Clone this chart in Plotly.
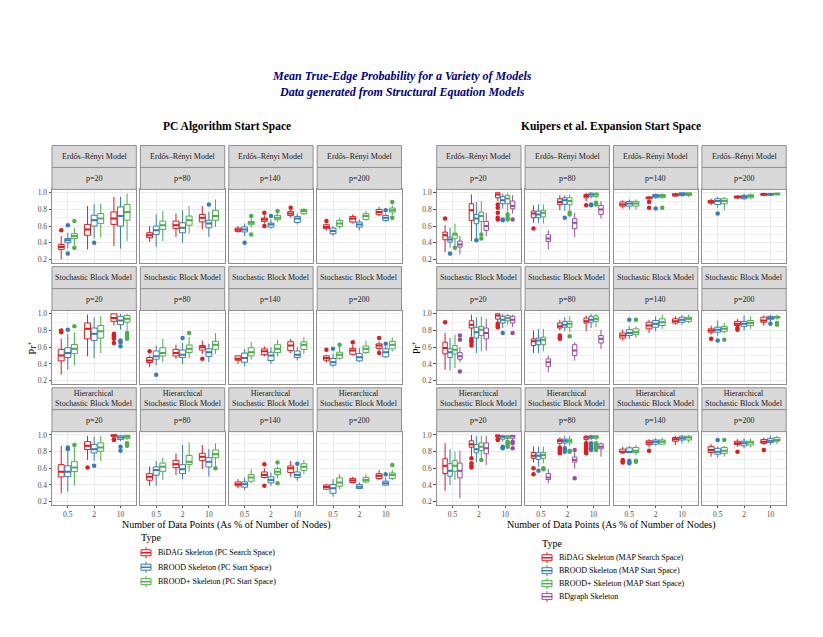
import plotly.graph_objects as go

W, H = 823, 637

# ---------------- categories / labels ----------------
MODELS = ["Erdős–Rényi Model", "Stochastic Block Model", "Hierarchical<br>Stochastic Block Model"]
P_LABELS = ["p=20", "p=80", "p=140", "p=200"]
N_LABELS = ["0.5", "2", "10"]

PC_TYPES = ["BiDAG Skeleton (PC Search Space)", "BROOD Skeleton (PC Start Space)",
            "BROOD+ Skeleton (PC Start Space)"]
MAP_TYPES = ["BiDAG Skeleton (MAP Search Space)", "BROOD Skeleton (MAP Start Space)",
             "BROOD+ Skeleton (MAP Start Space)", "BDgraph Skeleton"]
TYPE_COLORS = ["#E41A1C", "#377EB8", "#4DAF4A", "#984EA3"]

# ---------------- data ----------------
# Each facet (model x p, row-major: ER p20..p200, SBM p20..p200, HSBM p20..p200)
# holds 3 boxes (n = 0.5, 2, 10): [lower whisker, q1, median, q3, upper whisker]
PC_BIDAG = [
    [[0.20, 0.32, 0.35, 0.38, 0.48], [0.32, 0.49, 0.56, 0.62, 0.84], [0.36, 0.62, 0.69, 0.77, 0.95]],
    [[0.41, 0.46, 0.49, 0.52, 0.60], [0.47, 0.57, 0.61, 0.66, 0.75], [0.56, 0.65, 0.70, 0.74, 0.84]],
    [[0.52, 0.536, 0.556, 0.576, 0.60], [0.63, 0.656, 0.68, 0.696, 0.73], [0.70, 0.728, 0.75, 0.776, 0.80]],
    [[0.55, 0.568, 0.59, 0.616, 0.63], [0.63, 0.648, 0.69, 0.716, 0.74], [0.72, 0.736, 0.77, 0.80, 0.83]],
    [[0.27, 0.436, 0.50, 0.574, 0.70], [0.49, 0.70, 0.82, 0.89, 0.99], [0.86, 0.91, 0.95, 1.0, 1.0]],
    [[0.36, 0.416, 0.44, 0.476, 0.50], [0.46, 0.495, 0.53, 0.574, 0.63], [0.52, 0.566, 0.60, 0.62, 0.68]],
    [[0.40, 0.444, 0.46, 0.496, 0.50], [0.49, 0.51, 0.55, 0.58, 0.61], [0.53, 0.56, 0.62, 0.665, 0.70]],
    [[0.42, 0.444, 0.47, 0.496, 0.51], [0.50, 0.515, 0.56, 0.586, 0.63], [0.55, 0.586, 0.62, 0.64, 0.67]],
    [[0.30, 0.497, 0.56, 0.644, 0.87], [0.70, 0.825, 0.87, 0.92, 0.99], [0.96, 0.985, 0.995, 1.0, 1.0]],
    [[0.39, 0.457, 0.50, 0.536, 0.62], [0.52, 0.608, 0.65, 0.695, 0.78], [0.59, 0.695, 0.74, 0.78, 0.88]],
    [[0.36, 0.39, 0.41, 0.437, 0.47], [0.48, 0.49, 0.52, 0.556, 0.60], [0.50, 0.55, 0.60, 0.628, 0.69]],
    [[0.34, 0.35, 0.375, 0.40, 0.41], [0.42, 0.43, 0.455, 0.477, 0.50], [0.46, 0.477, 0.51, 0.536, 0.58]],
]
PC_BIDAG_OUT = [
    [[0.55], [], []], [[], [], []], [[], [0.76, 0.60], [0.82]], [[0.66], [], []],
    [[0.78, 0.80], [], [0.76, 0.74, 0.72, 0.70, 0.65]], [[0.55], [], [0.46]], [[], [], []], [[0.57], [0.66], [0.71, 0.53]],
    [[], [0.61], [0.95, 0.94]], [[], [], []], [[], [0.65, 0.39], []], [[], [], []],
]
PC_BROOD = [
    [[0.33, 0.40, 0.43, 0.45, 0.52], [0.45, 0.60, 0.67, 0.73, 0.86], [0.33, 0.60, 0.72, 0.83, 0.95]],
    [[0.35, 0.50, 0.55, 0.60, 0.74], [0.40, 0.52, 0.58, 0.64, 0.79], [0.47, 0.58, 0.63, 0.67, 0.77]],
    [[0.48, 0.53, 0.56, 0.59, 0.63], [0.57, 0.588, 0.62, 0.636, 0.68], [0.62, 0.644, 0.69, 0.716, 0.75]],
    [[0.48, 0.508, 0.54, 0.576, 0.60], [0.55, 0.588, 0.62, 0.648, 0.68], [0.65, 0.668, 0.70, 0.728, 0.75]],
    [[0.33, 0.476, 0.53, 0.594, 0.76], [0.47, 0.68, 0.76, 0.83, 0.96], [0.81, 0.87, 0.92, 0.97, 1.0]],
    [[0.38, 0.456, 0.49, 0.555, 0.62], [0.40, 0.476, 0.51, 0.566, 0.65], [0.42, 0.49, 0.54, 0.58, 0.64]],
    [[0.37, 0.42, 0.47, 0.53, 0.58], [0.40, 0.44, 0.50, 0.54, 0.60], [0.44, 0.476, 0.51, 0.555, 0.60]],
    [[0.36, 0.385, 0.42, 0.464, 0.52], [0.42, 0.436, 0.48, 0.523, 0.59], [0.47, 0.484, 0.54, 0.58, 0.61]],
    [[0.32, 0.50, 0.56, 0.63, 0.80], [0.69, 0.785, 0.83, 0.885, 0.98], [0.93, 0.945, 0.97, 0.99, 1.0]],
    [[0.39, 0.517, 0.58, 0.616, 0.69], [0.47, 0.537, 0.59, 0.644, 0.88], [0.50, 0.616, 0.68, 0.727, 0.83]],
    [[0.34, 0.374, 0.41, 0.437, 0.49], [0.39, 0.426, 0.46, 0.497, 0.55], [0.45, 0.49, 0.52, 0.556, 0.62]],
    [[0.26, 0.30, 0.36, 0.406, 0.47], [0.35, 0.358, 0.38, 0.406, 0.43], [0.39, 0.398, 0.42, 0.446, 0.49]],
]
PC_BROOD_OUT = [
    [[0.61, 0.27], [0.40], []], [[], [], [0.86]], [[0.40], [0.72], []], [[], [], [0.79]],
    [[0.81], [], [0.68, 0.66, 0.61]], [[0.27], [0.71], []], [[], [], []], [[0.58], [], [0.64]],
    [[0.85, 0.83], [0.63], [0.86, 0.81]], [[], [], []], [[], [], [0.655]], [[], [], [0.53]],
]
PC_BROODP = [
    [[0.37, 0.45, 0.48, 0.51, 0.58], [0.46, 0.63, 0.69, 0.75, 0.87], [0.42, 0.67, 0.77, 0.86, 0.99]],
    [[0.42, 0.56, 0.61, 0.66, 0.78], [0.51, 0.61, 0.67, 0.72, 0.84], [0.59, 0.67, 0.72, 0.79, 0.92]],
    [[0.58, 0.616, 0.64, 0.656, 0.70], [0.65, 0.676, 0.70, 0.728, 0.76], [0.73, 0.748, 0.78, 0.80, 0.82]],
    [[0.57, 0.596, 0.63, 0.668, 0.70], [0.66, 0.68, 0.72, 0.748, 0.78], [0.73, 0.768, 0.79, 0.816, 0.85]],
    [[0.38, 0.523, 0.58, 0.633, 0.78], [0.53, 0.71, 0.79, 0.86, 0.97], [0.80, 0.90, 0.94, 0.98, 1.0]],
    [[0.42, 0.495, 0.53, 0.594, 0.70], [0.47, 0.535, 0.58, 0.626, 0.72], [0.52, 0.575, 0.63, 0.67, 0.77]],
    [[0.45, 0.496, 0.54, 0.594, 0.66], [0.49, 0.535, 0.58, 0.63, 0.69], [0.52, 0.574, 0.63, 0.665, 0.72]],
    [[0.45, 0.468, 0.51, 0.54, 0.60], [0.52, 0.535, 0.58, 0.614, 0.68], [0.55, 0.58, 0.63, 0.67, 0.72]],
    [[0.39, 0.56, 0.61, 0.68, 0.85], [0.69, 0.805, 0.85, 0.905, 0.99], [0.94, 0.96, 0.98, 0.995, 1.0]],
    [[0.46, 0.564, 0.62, 0.663, 0.73], [0.56, 0.644, 0.68, 0.754, 0.91], [0.63, 0.727, 0.77, 0.82, 0.90]],
    [[0.42, 0.445, 0.49, 0.525, 0.59], [0.48, 0.525, 0.56, 0.596, 0.62], [0.53, 0.576, 0.62, 0.655, 0.70]],
    [[0.35, 0.386, 0.43, 0.485, 0.53], [0.42, 0.437, 0.46, 0.49, 0.53], [0.46, 0.477, 0.52, 0.544, 0.58]],
]
PC_BROODP_OUT = [
    [[0.66, 0.34], [], []], [[], [], []], [[0.72, 0.50], [0.78], []], [[], [], [0.89, 0.70]],
    [[0.85], [], [0.77, 0.75, 0.72, 0.70]], [[], [0.77], []], [[], [], []], [[0.63], [], []],
    [[0.88], [], [0.90, 0.88, 0.87]], [[], [], [0.60]], [[], [0.67, 0.42], []], [[], [], [0.64]],
]

MAP_BIDAG = [
    [[0.29, 0.436, 0.49, 0.528, 0.61], [0.42, 0.668, 0.79, 0.868, 0.98], [0.90, 0.94, 0.98, 1.0, 1.0]],
    [[0.64, 0.70, 0.75, 0.78, 0.85], [0.79, 0.856, 0.89, 0.928, 0.97], [0.90, 0.94, 0.96, 0.98, 1.0]],
    [[0.81, 0.84, 0.86, 0.888, 0.91], [0.90, 0.928, 0.94, 0.948, 0.96], [0.95, 0.96, 0.975, 0.988, 1.0]],
    [[0.85, 0.876, 0.89, 0.908, 0.93], [0.93, 0.936, 0.95, 0.96, 0.97], [0.96, 0.97, 0.98, 0.99, 1.0]],
    [[0.33, 0.52, 0.59, 0.66, 0.77], [0.73, 0.83, 0.87, 0.917, 0.99], [0.90, 0.937, 0.98, 1.0, 1.0]],
    [[0.53, 0.62, 0.67, 0.70, 0.80], [0.80, 0.83, 0.85, 0.89, 0.93], [0.79, 0.89, 0.91, 0.95, 0.98]],
    [[0.68, 0.71, 0.74, 0.77, 0.81], [0.77, 0.82, 0.86, 0.90, 0.93], [0.87, 0.89, 0.91, 0.94, 0.97]],
    [[0.75, 0.78, 0.80, 0.82, 0.86], [0.84, 0.86, 0.88, 0.91, 0.94], [0.86, 0.90, 0.92, 0.96, 0.98]],
    [[0.33, 0.537, 0.63, 0.715, 0.90], [0.75, 0.853, 0.89, 0.93, 1.0], [0.96, 0.975, 0.99, 1.0, 1.0]],
    [[0.67, 0.72, 0.75, 0.79, 0.86], [0.88, 0.90, 0.93, 0.95, 0.97], [0.92, 0.945, 0.97, 0.985, 1.0]],
    [[0.77, 0.786, 0.80, 0.83, 0.86], [0.85, 0.885, 0.91, 0.93, 0.95], [0.88, 0.925, 0.95, 0.97, 0.99]],
    [[0.74, 0.79, 0.82, 0.86, 0.89], [0.86, 0.885, 0.90, 0.925, 0.95], [0.88, 0.90, 0.92, 0.945, 0.97]],
]
MAP_BIDAG_OUT = [
    [[0.69], [], [0.86, 0.82, 0.76, 0.70, 0.68]], [[0.57], [], [0.85]], [[], [0.89, 0.82], []], [[], [], []],
    [[0.90], [0.70, 0.68, 0.66, 0.62], [0.88, 0.86, 0.84]], [[], [0.74, 0.72, 0.70], []], [[], [], []],
    [[0.70], [0.81, 0.83], []],
    [[], [0.72, 0.66, 0.63, 0.61], [0.95, 0.94]],
    [[0.60, 0.53], [0.85, 0.83, 0.81, 0.79, 0.78], [0.90, 0.88, 0.86, 0.84, 0.82, 0.80, 0.78]],
    [[0.70, 0.68, 0.67], [0.81], []], [[], [0.80], [0.82]],
]
MAP_BROOD = [
    [[0.34, 0.408, 0.44, 0.468, 0.58], [0.44, 0.628, 0.69, 0.74, 0.89], [0.81, 0.868, 0.91, 0.956, 0.99]],
    [[0.64, 0.70, 0.74, 0.78, 0.86], [0.78, 0.86, 0.91, 0.94, 0.97], [0.93, 0.956, 0.98, 0.996, 1.0]],
    [[0.80, 0.84, 0.87, 0.896, 0.92], [0.93, 0.94, 0.96, 0.98, 0.99], [0.95, 0.968, 0.985, 1.0, 1.0]],
    [[0.82, 0.86, 0.90, 0.928, 0.95], [0.91, 0.928, 0.95, 0.968, 0.99], [0.96, 0.97, 0.98, 0.99, 1.0]],
    [[0.32, 0.475, 0.54, 0.58, 0.71], [0.53, 0.71, 0.78, 0.84, 0.96], [0.83, 0.89, 0.93, 0.97, 1.0]],
    [[0.53, 0.63, 0.68, 0.71, 0.82], [0.79, 0.84, 0.87, 0.91, 0.96], [0.83, 0.90, 0.93, 0.97, 1.0]],
    [[0.70, 0.74, 0.77, 0.81, 0.85], [0.79, 0.84, 0.88, 0.92, 0.97], [0.87, 0.90, 0.93, 0.96, 0.99]],
    [[0.74, 0.78, 0.81, 0.84, 0.92], [0.80, 0.85, 0.88, 0.91, 0.98], [0.90, 0.93, 0.95, 0.97, 0.99]],
    [[0.40, 0.505, 0.57, 0.655, 0.83], [0.67, 0.786, 0.83, 0.885, 0.99], [0.92, 0.95, 0.98, 0.99, 1.0]],
    [[0.62, 0.707, 0.75, 0.786, 0.86], [0.87, 0.905, 0.93, 0.95, 0.99], [0.94, 0.96, 0.98, 0.99, 1.0]],
    [[0.78, 0.79, 0.80, 0.845, 0.87], [0.87, 0.89, 0.92, 0.94, 0.96], [0.90, 0.94, 0.96, 0.985, 1.0]],
    [[0.73, 0.77, 0.80, 0.84, 0.86], [0.84, 0.87, 0.90, 0.925, 0.96], [0.88, 0.91, 0.93, 0.96, 0.99]],
]
MAP_BROOD_OUT = [
    [[0.27], [0.43], [0.68, 0.67]], [[], [0.70], [0.86, 0.85]], [[], [0.81], []], [[0.75], [], []],
    [[], [], [0.77]], [[], [], []], [[0.93], [], []], [[0.68], [], [0.88]],
    [[], [], [0.86, 0.85, 0.84]], [[0.57], [0.84, 0.82, 0.80], [0.90, 0.88, 0.86, 0.84, 0.82]],
    [[0.69, 0.67, 0.66], [], []], [[0.94], [], []],
]
MAP_BROODP = [
    [[0.35, 0.448, 0.50, 0.516, 0.63], [0.52, 0.656, 0.72, 0.768, 0.90], [0.76, 0.868, 0.93, 0.968, 1.0]],
    [[0.63, 0.71, 0.76, 0.79, 0.86], [0.78, 0.856, 0.90, 0.94, 0.98], [0.93, 0.956, 0.98, 0.996, 1.0]],
    [[0.80, 0.84, 0.87, 0.896, 0.92], [0.93, 0.94, 0.96, 0.98, 0.99], [0.95, 0.968, 0.985, 1.0, 1.0]],
    [[0.79, 0.868, 0.90, 0.928, 0.95], [0.92, 0.94, 0.96, 0.976, 0.99], [0.965, 0.975, 0.985, 0.995, 1.0]],
    [[0.35, 0.52, 0.57, 0.62, 0.75], [0.55, 0.74, 0.81, 0.85, 0.97], [0.87, 0.917, 0.95, 0.98, 1.0]],
    [[0.55, 0.63, 0.69, 0.72, 0.82], [0.78, 0.84, 0.88, 0.91, 0.97], [0.84, 0.91, 0.94, 0.976, 1.0]],
    [[0.71, 0.75, 0.78, 0.82, 0.85], [0.82, 0.86, 0.90, 0.94, 0.99], [0.89, 0.91, 0.94, 0.96, 0.99]],
    [[0.76, 0.79, 0.82, 0.85, 0.89], [0.82, 0.86, 0.89, 0.92, 0.97], [0.93, 0.95, 0.96, 0.97, 0.99]],
    [[0.46, 0.564, 0.63, 0.695, 0.80], [0.71, 0.814, 0.86, 0.905, 0.99], [0.93, 0.96, 0.98, 0.99, 1.0]],
    [[0.66, 0.72, 0.76, 0.79, 0.86], [0.87, 0.905, 0.93, 0.95, 0.99], [0.94, 0.96, 0.98, 0.99, 1.0]],
    [[0.76, 0.79, 0.81, 0.85, 0.88], [0.88, 0.89, 0.92, 0.94, 0.97], [0.91, 0.94, 0.97, 0.985, 1.0]],
    [[0.74, 0.78, 0.81, 0.85, 0.87], [0.85, 0.88, 0.91, 0.925, 0.96], [0.89, 0.925, 0.94, 0.97, 0.99]],
]
MAP_BROODP_OUT = [
    [[0.34], [0.50, 0.45], [0.74, 0.70, 0.68]], [[], [0.76, 0.74], [0.88, 0.87, 0.86]], [[], [0.82], []], [[], [], []],
    [[], [], []], [[], [0.73], []], [[0.93], [], []], [[0.69], [], [0.89, 0.87]],
    [[], [0.70], [0.92, 0.90, 0.88, 0.86]], [[0.60, 0.59], [0.81, 0.80], [0.90, 0.88, 0.86, 0.84, 0.82]],
    [[0.69, 0.68], [], []], [[0.94], [], []],
]
MAP_BDGRAPH = [
    [[0.26, 0.348, 0.38, 0.42, 0.48], [0.48, 0.548, 0.60, 0.656, 0.76], [0.75, 0.808, 0.84, 0.90, 0.97]],
    [[0.32, 0.416, 0.45, 0.496, 0.55], [0.47, 0.568, 0.64, 0.688, 0.76], [0.69, 0.74, 0.80, 0.848, 0.90]],
    None, None,
    [[0.42, 0.456, 0.49, 0.535, 0.60], [0.56, 0.70, 0.77, 0.83, 0.94], [0.84, 0.89, 0.93, 0.97, 0.99]],
    [[0.30, 0.37, 0.42, 0.46, 0.50], [0.44, 0.50, 0.56, 0.63, 0.66], [0.58, 0.65, 0.70, 0.74, 0.81]],
    None, None,
    [[0.24, 0.485, 0.57, 0.663, 0.81], [0.64, 0.774, 0.84, 0.905, 0.99], [0.94, 0.96, 0.985, 0.995, 1.0]],
    [[0.42, 0.465, 0.49, 0.537, 0.59], [0.60, 0.675, 0.70, 0.735, 0.79], [0.74, 0.834, 0.86, 0.893, 0.91]],
    None, None,
]
MAP_BDGRAPH_OUT = [
    [[], [], [0.68]], [[], [], []], None, None,
    [[0.74, 0.69, 0.31], [], [0.77]], [[], [], []], None, None,
    [[], [], [0.92, 0.90, 0.84]], [[], [0.82, 0.48], []], None, None,
]

PANELS = [
    ("PC Algorithm Start Space", PC_TYPES,
     [PC_BIDAG, PC_BROOD, PC_BROODP], [PC_BIDAG_OUT, PC_BROOD_OUT, PC_BROODP_OUT]),
    ("Kuipers et al. Expansion Start Space", MAP_TYPES,
     [MAP_BIDAG, MAP_BROOD, MAP_BROODP, MAP_BDGRAPH],
     [MAP_BIDAG_OUT, MAP_BROOD_OUT, MAP_BROODP_OUT, MAP_BDGRAPH_OUT]),
]

# ---------------- geometry (pixels) ----------------
PANEL_X0 = [[52.0, 140.4, 228.8, 317.2], [436.7, 525.1, 613.5, 701.9]]
PANEL_W = 84.3
ROW_TOP = [145.0, 266.5, 388.0]
STRIP_H = 22.0
PLOT_H = 74.0
XR = [-0.6, 2.6]
YR = [0.155, 1.04]
FONT = "Liberation Serif"
GRID = "#EBEBEB"
BORDER = "#8F8F8F"
STRIP_FILL = "#D9D9D9"


def pxx(x):
    return x / W


def pxy(y):
    return 1 - y / H


fig = go.Figure()
layout = {}
shapes = []
annotations = []

for s, (ptitle, types, stats, outs) in enumerate(PANELS):
    for m in range(3):
        for c in range(4):
            f = m * 4 + c
            k = s * 12 + f + 1
            xname = "xaxis" if k == 1 else f"xaxis{k}"
            yname = "yaxis" if k == 1 else f"yaxis{k}"
            xref = "x" if k == 1 else f"x{k}"
            yref = "y" if k == 1 else f"y{k}"
            x0 = PANEL_X0[s][c]
            x1 = x0 + PANEL_W
            top = ROW_TOP[m]
            ptop = top + 2 * STRIP_H
            pbot = ptop + PLOT_H
            bottom_row = (m == 2)
            left_col = (c == 0)
            layout[xname] = dict(
                domain=[pxx(x0), pxx(x1)], range=XR, anchor=yref,
                tickmode="array", tickvals=[0, 1, 2], ticktext=N_LABELS,
                showticklabels=bottom_row, ticks="outside" if bottom_row else "",
                ticklen=2, tickcolor="#555555", tickwidth=1, ticklabelstandoff=0,
                tickfont=dict(family=FONT, size=7.5, color="#4D4D4D"),
                showgrid=True, gridcolor=GRID, gridwidth=1, zeroline=False,
                showline=True, mirror=True, linecolor=BORDER, linewidth=1,
            )
            layout[yname] = dict(
                domain=[pxy(pbot), pxy(ptop)], range=YR, anchor=xref,
                tickmode="linear", tick0=0.2, dtick=0.2, tickformat=".1f",
                showticklabels=left_col, ticks="outside" if left_col else "",
                ticklen=2.5, tickcolor="#555555", tickwidth=1,
                tickfont=dict(family=FONT, size=7.5, color="#4D4D4D"),
                showgrid=True, gridcolor=GRID, gridwidth=1, zeroline=False,
                minor=dict(dtick=0.1, tick0=0.2, showgrid=True, gridcolor="#F2F2F2", gridwidth=0.6),
                showline=True, mirror=True, linecolor=BORDER, linewidth=1,
            )
            # strips
            for j, label in enumerate([MODELS[m], P_LABELS[c]]):
                sy0 = top + j * STRIP_H
                sy1 = sy0 + STRIP_H
                shapes.append(dict(type="rect", xref="paper", yref="paper",
                                   x0=pxx(x0), x1=pxx(x1), y0=pxy(sy1), y1=pxy(sy0),
                                   fillcolor=STRIP_FILL, line=dict(color=BORDER, width=1)))
                annotations.append(dict(xref="paper", yref="paper", x=pxx((x0 + x1) / 2),
                                        y=pxy((sy0 + sy1) / 2), text=label, showarrow=False,
                                        xanchor="center", yanchor="middle",
                                        font=dict(family=FONT, size=8, color="#1A1A1A")))
            # boxes
            present = [t for t in range(len(types)) if stats[t][f] is not None]
            n = len(present)
            slot = 0.75 / n
            bw = slot * 0.9
            for i, t in enumerate(present):
                off = (i - (n - 1) / 2) * slot
                boxes = stats[t][f]
                xs = [j + off for j in range(3)]
                col = TYPE_COLORS[t]
                fig.add_trace(go.Box(
                    x=xs, lowerfence=[b[0] for b in boxes], q1=[b[1] for b in boxes],
                    median=[b[2] for b in boxes], q3=[b[3] for b in boxes],
                    upperfence=[b[4] for b in boxes], width=bw,
                    line=dict(color=col, width=1), fillcolor="rgba(255,255,255,1)",
                    whiskerwidth=0, boxpoints=False, showlegend=False, hoverinfo="skip",
                    xaxis=xref, yaxis=yref))
                mx, my = [], []
                for j, b in enumerate(boxes):
                    mx += [xs[j] - bw / 2, xs[j] + bw / 2, None]
                    my += [b[2], b[2], None]
                fig.add_trace(go.Scatter(x=mx, y=my, mode="lines", line=dict(color=col, width=2),
                                         showlegend=False, hoverinfo="skip", xaxis=xref, yaxis=yref))
                ox, oy = [], []
                for j, pts in enumerate(outs[t][f]):
                    ox += [xs[j]] * len(pts)
                    oy += pts
                if ox:
                    fig.add_trace(go.Scatter(x=ox, y=oy, mode="markers",
                                             marker=dict(color=col, size=4.5, line=dict(width=0)),
                                             showlegend=False, hoverinfo="skip",
                                             xaxis=xref, yaxis=yref, cliponaxis=False))

    # panel-level titles
    px0 = PANEL_X0[s][0]
    px1 = PANEL_X0[s][3] + PANEL_W
    cx = (px0 + px1) / 2
    annotations.append(dict(xref="paper", yref="paper", x=pxx(cx), y=pxy(125.5),
                            text=f"<b>{ptitle}</b>", showarrow=False, xanchor="center",
                            yanchor="middle", font=dict(family=FONT, size=11.5, color="black")))
    annotations.append(dict(xref="paper", yref="paper", x=pxx(cx), y=pxy(526),
                            text="Number of Data Points (As % of Number of Nodes)", showarrow=False,
                            xanchor="center", yanchor="middle",
                            font=dict(family=FONT, size=10, color="black")))
    annotations.append(dict(xref="paper", yref="paper", x=pxx(px0 - 20), y=pxy(347.5),
                            text="Pr<sup>+</sup>", showarrow=False, textangle=-90,
                            xanchor="center", yanchor="middle",
                            font=dict(family=FONT, size=10, color="black")))

    # legend (drawn manually)
    if s == 0:
        lx, ly_title, ly_items = 139.0, 538.5, [553.5, 568.0, 582.5]
    else:
        lx, ly_title, ly_items = 540.0, 544.5, [558.5, 571.5, 584.5, 597.5]
    annotations.append(dict(xref="paper", yref="paper", x=pxx(lx), y=pxy(ly_title),
                            text="Type", showarrow=False, xanchor="left", yanchor="middle",
                            font=dict(family=FONT, size=10, color="black")))
    for t, name in enumerate(types):
        cy = ly_items[t]
        gx0, gx1 = lx + 2, lx + 12
        col = TYPE_COLORS[t]
        shapes.append(dict(type="rect", xref="paper", yref="paper", x0=pxx(gx0), x1=pxx(gx1),
                           y0=pxy(cy + 3), y1=pxy(cy - 3), fillcolor="white",
                           line=dict(color=col, width=1)))
        shapes.append(dict(type="line", xref="paper", yref="paper", x0=pxx(gx0), x1=pxx(gx1),
                           y0=pxy(cy), y1=pxy(cy), line=dict(color=col, width=1.5)))
        gxm = (gx0 + gx1) / 2
        shapes.append(dict(type="line", xref="paper", yref="paper", x0=pxx(gxm), x1=pxx(gxm),
                           y0=pxy(cy - 3), y1=pxy(cy - 5.5), line=dict(color=col, width=1)))
        shapes.append(dict(type="line", xref="paper", yref="paper", x0=pxx(gxm), x1=pxx(gxm),
                           y0=pxy(cy + 3), y1=pxy(cy + 5.5), line=dict(color=col, width=1)))
        annotations.append(dict(xref="paper", yref="paper", x=pxx(gx1 + 5), y=pxy(cy),
                                text=name, showarrow=False, xanchor="left", yanchor="middle",
                                font=dict(family=FONT, size=8, color="black")))

# main title
annotations.append(dict(xref="paper", yref="paper", x=pxx(402), y=pxy(83),
                        text="<b><i>Mean True-Edge Probability for a Variety of Models</i></b><br>"
                             "<b><i>Data generated from Structural Equation Models</i></b>",
                        showarrow=False, xanchor="center", yanchor="middle",
                        font=dict(family=FONT, size=12, color="#00008B")))

layout.update(dict(
    width=W, height=H, margin=dict(l=0, r=0, t=0, b=0),
    paper_bgcolor="white", plot_bgcolor="white", showlegend=False,
    shapes=shapes, annotations=annotations,
    font=dict(family=FONT),
))
fig.update_layout(**layout)
fig.write_html("out.html")
